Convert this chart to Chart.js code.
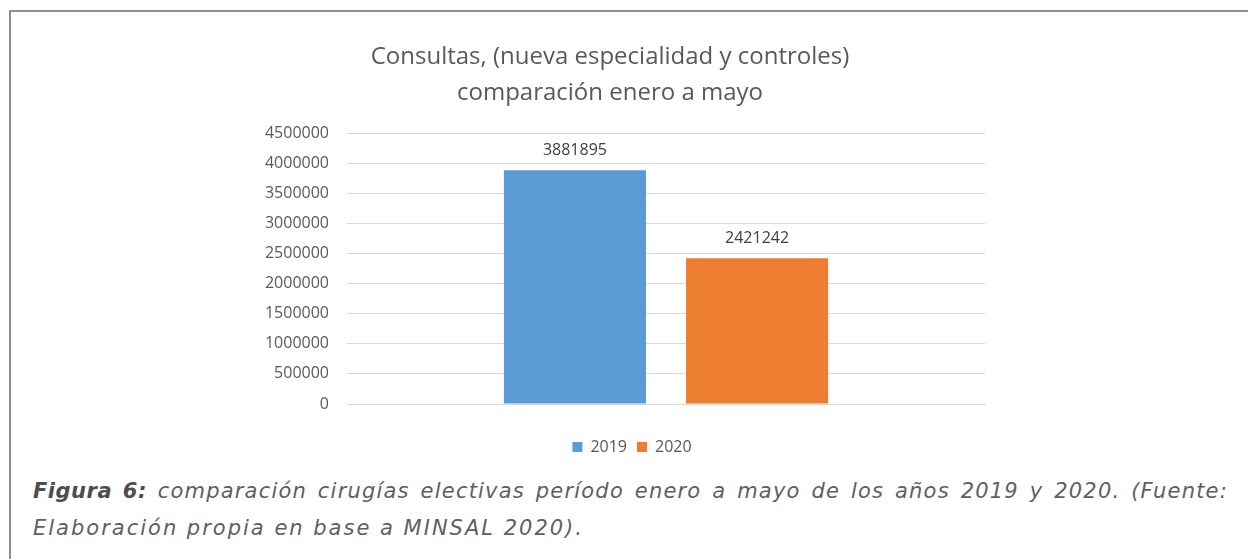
<!DOCTYPE html>
<html>
<head>
<meta charset="utf-8">
<script src="https://cdn.jsdelivr.net/npm/chart.js@4"></script>
<style>
  html, body { margin: 0; padding: 0; background: #fff; }
  body { width: 1248px; height: 559px; overflow: hidden; position: relative; }
  #frame {
    position: absolute; left: 9px; top: 10px; width: 1300px; height: 600px;
    border: 2px solid #8f8f8f; box-sizing: border-box;
  }
  #wrap { position: absolute; left: 0; top: 0; width: 1248px; height: 470px; }
  #caption {
    position: absolute; left: 33px; top: 473px; width: 1195px;
    font-family: "DejaVu Sans", sans-serif; font-style: italic;
    font-size: 21px; line-height: 37px; color: #5f5f5f; letter-spacing: 2px;
  }
  #caption .l1 { text-align: justify; text-align-last: justify; white-space: nowrap; letter-spacing: 1.2px; }
  #caption b { color: #4d4d4d; letter-spacing: 0.5px; }
</style>
</head>
<body>
<div id="frame"></div>
<div id="wrap"><canvas id="c1" width="1248" height="470"></canvas></div>
<div id="caption">
  <div class="l1"><b>Figura 6:</b> comparación cirugías electivas período enero a mayo de los años 2019 y 2020. (Fuente:</div>
  <div>Elaboración propia en base a MINSAL 2020).</div>
</div>
<script>
// datos
var categories = [""];
var years = ["2019", "2020"];
var consultas2019 = [3881895];
var consultas2020 = [2421242];
var yTicks = [0, 500000, 1000000, 1500000, 2000000, 2500000, 3000000, 3500000, 4000000, 4500000];

var gray = "#595959";

// etiquetas de valor encima de cada barra
var barLabels = {
  id: "barLabels",
  afterDatasetsDraw: function(chart) {
    var ctx = chart.ctx;
    ctx.save();
    ctx.font = "16px 'Open Sans'";
    ctx.fillStyle = "#404040";
    ctx.textAlign = "center";
    ctx.textBaseline = "middle";
    chart.data.datasets.forEach(function(ds, i) {
      chart.getDatasetMeta(i).data.forEach(function(bar, j) {
        ctx.fillText(String(ds.data[j]), bar.x, bar.y - 20);
      });
    });
    ctx.restore();
  }
};

// titulo y leyenda no van centrados sobre el canvas entero, como en Excel
var moveBoxes = {
  id: "moveBoxes",
  afterLayout: function(chart) {
    var t = chart.titleBlock;
    t.left = 235; t.right = 985; t.width = 750;
    var l = chart.legend;
    l.left = 279; l.right = 985; l.width = 706;
  }
};

var ctx = document.getElementById("c1");
var myBarChart = new Chart(ctx, {
  type: "bar",
  data: {
    labels: categories,
    datasets: [
      {
        label: years[0],
        data: consultas2019,
        backgroundColor: "#5b9bd5",
        barPercentage: 0.78,
        categoryPercentage: 0.571
      },
      {
        label: years[1],
        data: consultas2020,
        backgroundColor: "#ed7d31",
        barPercentage: 0.78,
        categoryPercentage: 0.571
      }
    ]
  },
  options: {
    responsive: false,
    animation: false,
    layout: { padding: { left: 0, right: 263, top: 0, bottom: 5 } },
    plugins: {
      title: {
        display: true,
        text: ["Consultas, (nueva especialidad y controles)", "comparación enero a mayo"],
        color: gray,
        font: { family: "Open Sans", size: 24, weight: "normal", lineHeight: 1.5 },
        padding: { top: 39, bottom: 22 }
      },
      legend: {
        position: "bottom",
        labels: {
          boxWidth: 10,
          boxHeight: 10,
          padding: 10,
          color: gray,
          font: { family: "Open Sans", size: 16 }
        }
      },
      tooltip: { enabled: false }
    },
    scales: {
      x: {
        grid: { display: false },
        border: { color: "#d9d9d9", width: 1 },
        ticks: { display: false },
        afterFit: function(scale) { scale.height = 25; }
      },
      y: {
        min: 0,
        max: yTicks[yTicks.length - 1],
        border: { display: false },
        grid: { color: "#d9d9d9", drawTicks: false },
        afterBuildTicks: function(scale) {
          scale.ticks = yTicks.map(function(v) { return { value: v }; });
        },
        ticks: {
          padding: 18,
          color: gray,
          font: { family: "Open Sans", size: 16 },
          callback: function(v) { return String(v); }
        },
        afterFit: function(scale) { scale.width = 347; }
      }
    }
  },
  plugins: [barLabels, moveBoxes]
});
</script>
</body>
</html>
